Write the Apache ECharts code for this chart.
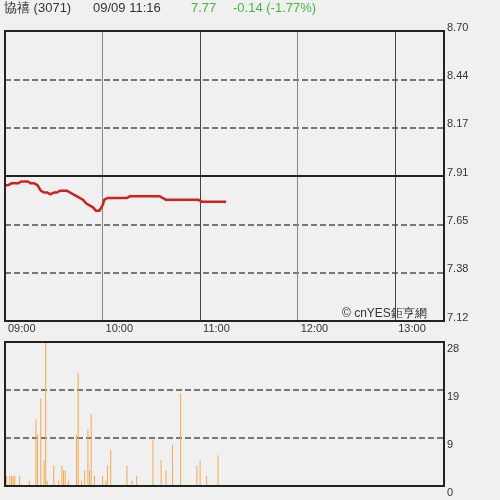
<!DOCTYPE html>
<html>
<head>
<meta charset="utf-8">
<script src="https://cdn.jsdelivr.net/npm/echarts@6/dist/echarts.min.js"></script>
<style>
html,body{margin:0;padding:0;background:#f0f0f0;}
#c{width:500px;height:500px;}
</style>
</head>
<body>
<div id="c"></div>
<script>
// ---- header texts ----
var stockName = '協禧 (3071)';
var stampText = '09/09 11:16';
var lastPriceText = '7.77';
var changeText = '-0.14 (-1.77%)';
var watermark = '© cnYES鉅亨網';

// ---- axes ----
var sessionStart = 9 * 60;      // 09:00
var sessionMinutes = 270;       // to 13:30
var hourLabels = ['09:00', '10:00', '11:00', '12:00', '13:00'];
var priceMin = 7.12;
var priceMax = 8.70;
var prevClose = 7.91;
var volMin = 0;
var volMax = 28;

// ---- price per minute from 09:00 (through 11:16) ----
var prices = [
  7.86, 7.86, 7.86,
  7.87, 7.87, 7.87, 7.87, 7.87, 7.87,
  7.88, 7.88, 7.88, 7.88, 7.88, 7.88,
  7.87, 7.87, 7.87, 7.87,
  7.86, 7.86,
  7.85,
  7.83,
  7.84,
  7.82,
  7.82, 7.82, 7.81, 7.81, 7.82, 7.82, 7.82, 7.82,
  7.82, 7.83, 7.83, 7.83, 7.82, 7.83,
  7.83, 7.82, 7.82, 7.81,
  7.81, 7.80, 7.80, 7.79,
  7.78, 7.78, 7.77, 7.76,
  7.76, 7.75, 7.74, 7.74,
  7.73, 7.72, 7.72, 7.72,
  7.73, 7.75,
  7.78, 7.79,
  7.79, 7.79, 7.79, 7.79, 7.79, 7.79, 7.79, 7.79, 7.79, 7.79, 7.79, 7.79, 7.79,
  7.80, 7.80, 7.80, 7.80, 7.80, 7.80, 7.80, 7.80, 7.80, 7.80,
  7.80, 7.80, 7.80, 7.80, 7.80, 7.80, 7.80, 7.80, 7.80, 7.80,
  7.79, 7.79, 7.78,
  7.78, 7.78, 7.78, 7.78, 7.78, 7.78, 7.78, 7.78, 7.78, 7.78, 7.78,
  7.78, 7.78, 7.78, 7.78, 7.78, 7.78, 7.78, 7.78, 7.78, 7.78, 7.78,
  7.77, 7.77, 7.77, 7.77, 7.77, 7.77, 7.77, 7.77,
  7.77, 7.77, 7.77, 7.77, 7.77, 7.77, 7.77, 7.77
];

// ---- volume per minute from 09:00 (through 11:16) ----
var volumes = [
  12, 2, 0, 2, 2, 2, 2, 0, 0, 2,      // 0-9
  0, 0, 0, 0, 0, 1, 0, 0, 0, 13,      // 10-19
  10, 0, 17, 0, 5, 28, 1, 0, 0, 0,    // 20-29
  4, 0, 0, 1, 0, 4, 3, 3, 0, 1,       // 30-39
  0, 0, 0, 0, 10, 22, 0, 1, 0, 3,     // 40-49
  0, 11, 3, 14, 0, 2, 0, 0, 0, 0,     // 50-59
  2, 0, 1, 4, 0, 7, 0, 0, 0, 0,       // 60-69
  0, 0, 0, 0, 0, 4, 0, 0, 1, 0,       // 70-79
  0, 2, 0, 0, 0, 0, 0, 0, 0, 0,       // 80-89
  0, 9, 0, 0, 0, 0, 5, 0, 0, 3,       // 90-99
  0, 0, 0, 8, 0, 0, 0, 0, 18, 0,      // 100-109
  0, 0, 0, 0, 0, 0, 0, 0, 4, 0,       // 110-119
  5, 0, 0, 0, 2, 0, 0, 0, 0, 0,       // 120-129
  0, 6, 0, 0, 0, 0, 0                 // 130-136
];

function pad(n) { return (n < 10 ? '0' : '') + n; }
var minutes = [];
for (var i = 0; i <= sessionMinutes; i++) {
  var t = sessionStart + i;
  minutes.push(pad(Math.floor(t / 60)) + ':' + pad(t % 60));
}

var FONT = 'Liberation Sans, Arial, sans-serif';
var chart = echarts.init(document.getElementById('c'), null, { renderer: 'canvas' });

var option = {
  backgroundColor: '#f0f0f0',
  animation: false,
  grid: [
    { left: 5, top: 31, width: 439, height: 290, show: true, borderColor: '#222', borderWidth: 2, backgroundColor: 'transparent', z: 10 },
    { left: 5, top: 342, width: 439, height: 144, show: true, borderColor: '#222', borderWidth: 2, backgroundColor: 'transparent', z: 10 }
  ],
  xAxis: [
    {
      type: 'category', gridIndex: 0, data: minutes, boundaryGap: false,
      axisLine: { show: false }, axisTick: { show: false },
      axisLabel: {
        interval: function (idx, val) { return hourLabels.indexOf(val) >= 0; },
        align: 'left', padding: [0, 0, 0, 3], margin: 2,
        color: '#333', fontSize: 11, fontFamily: FONT
      },
      splitLine: {
        show: true,
        interval: function (idx, val) { return hourLabels.indexOf(val) > 0; },
        lineStyle: { color: ['#888', '#444', '#888', '#444'], width: 1, type: 'solid' }
      }
    },
    {
      type: 'category', gridIndex: 1, data: minutes, boundaryGap: false,
      axisLine: { show: false }, axisTick: { show: false },
      axisLabel: { show: false }, splitLine: { show: false }
    }
  ],
  yAxis: [
    {
      type: 'value', gridIndex: 0, position: 'right',
      min: priceMin, max: priceMax, interval: (priceMax - priceMin) / 6,
      axisLine: { show: false }, axisTick: { show: false },
      axisLabel: {
        formatter: function (v) { return v.toFixed(2); },
        margin: 3, verticalAlign: 'bottom', lineHeight: 7,
        color: '#333', fontSize: 11, fontFamily: FONT
      },
      splitLine: { show: true, lineStyle: { color: '#777', width: 2, type: [6, 3] } }
    },
    {
      type: 'value', gridIndex: 1, position: 'right',
      min: volMin, max: volMax, interval: (volMax - volMin) / 3,
      axisLine: { show: false }, axisTick: { show: false },
      axisLabel: {
        formatter: function (v) { return String(Math.round(v)); },
        margin: 3, verticalAlign: 'top', lineHeight: 13,
        color: '#333', fontSize: 11, fontFamily: FONT
      },
      splitLine: { show: true, lineStyle: { color: '#777', width: 2, type: [6, 3] } }
    }
  ],
  series: [
    {
      type: 'line', xAxisIndex: 0, yAxisIndex: 0, data: prices,
      showSymbol: false, symbol: 'none',
      lineStyle: { color: '#d02020', width: 2.5 },
      markLine: {
        silent: true, symbol: 'none', animation: false,
        label: { show: false },
        lineStyle: { color: '#222', width: 2, type: 'solid' },
        data: [{ yAxis: prevClose }]
      },
      z: 3
    },
    {
      type: 'bar', xAxisIndex: 1, yAxisIndex: 1, data: volumes,
      barWidth: 1, itemStyle: { color: '#f5a84e' }
    }
  ],
  graphic: [
    { type: 'text', left: 4, top: 2, style: { text: stockName, fill: '#333', font: '13px ' + FONT } },
    { type: 'text', left: 93, top: 2, style: { text: stampText, fill: '#333', font: '13px ' + FONT } },
    { type: 'text', left: 191, top: 2, style: { text: lastPriceText, fill: '#44b844', font: '13px ' + FONT } },
    { type: 'text', left: 233, top: 2, style: { text: changeText, fill: '#44b844', font: '13px ' + FONT } },
    { type: 'text', left: 342, top: 308, style: { text: watermark, fill: '#333', font: '12px ' + FONT } }
  ]
};
chart.setOption(option);
</script>
</body>
</html>
